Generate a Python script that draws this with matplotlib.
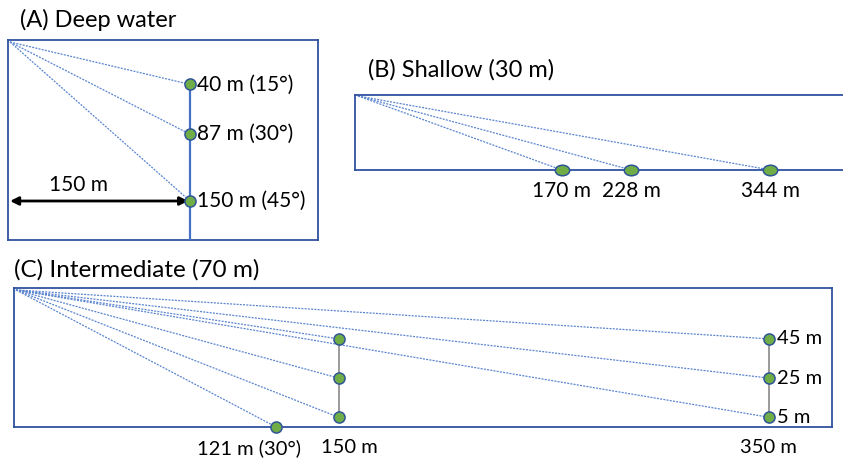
import matplotlib.pyplot as plt
from matplotlib.markers import MarkerStyle
from matplotlib.transforms import Affine2D

plt.rcParams['font.family'] = ['Lato', 'DejaVu Sans']

# (A) deep water: receivers on a line 150 m out, at three depths
deep_range = 150
deep_depths = [40, 87, 150]
deep_angles = [15, 30, 45]

# (B) shallow water, 30 m deep: receivers on the seabed
shallow_depth = 30
shallow_ranges = [170, 228, 344]

# (C) intermediate water, 70 m deep
mid_depth = 70
mid_bottom_range = 121
mid_bottom_angle = 30
mid_ranges = [150, 350]
mid_heights = [45, 25, 5]   # metres above the seabed

BOX = '#2F52A0'
RAY = '#5B85D0'
DOT_FACE = '#70AD47'
DOT_EDGE = '#2F5597'
W, H = 843, 459

fig = plt.figure(figsize=(W / 100, H / 100), dpi=100)


def box_axes(x0, y0, x1, y1):
    ax = fig.add_axes([x0 / W, 1 - y1 / H, (x1 - x0) / W, (y1 - y0) / H])
    ax.set_xticks([])
    ax.set_yticks([])
    for sp in ax.spines.values():
        sp.set_color(BOX)
        sp.set_linewidth(1.3)
    return ax


def ray(ax, x, y):
    ax.plot([0, x], [0, y], color=RAY, lw=0.9, ls=(0, (1.6, 1.0)), zorder=2)


def dot(ax, x, y, marker='o', ms=8):
    ax.plot(x, y, marker=marker, ms=ms, mfc=DOT_FACE, mec=DOT_EDGE, mew=1.1,
            ls='none', zorder=5, clip_on=False)


# ---- (A) Deep water ----
axA = box_axes(8, 40, 318, 240)
axA.set_xlim(-1.7, 256.7)
axA.set_ylim(186.8, -1.9)
axA.plot([deep_range, deep_range], [deep_depths[0], 186.8], color='#4472C4', lw=1.6, zorder=3)
for d, a in zip(deep_depths, deep_angles):
    ray(axA, deep_range, d)
    dot(axA, deep_range, d)
    axA.annotate(f'{d} m ({a}°)', (deep_range, d), xytext=(5, 0), textcoords='offset points',
                 ha='left', va='center', fontsize=15)
axA.annotate('', xy=(0, deep_depths[-1]), xytext=(deep_range - 1.5, deep_depths[-1]),
             arrowprops=dict(arrowstyle='<|-|>', color='black', lw=2, mutation_scale=12,
                             shrinkA=0, shrinkB=0))
axA.text(57, deep_depths[-1] - 6, f'{deep_range} m', ha='center', va='bottom', fontsize=15)
fig.text(20 / W, 1 - 20 / H, '(A) Deep water', ha='left', va='center', fontsize=17)

# ---- (B) Shallow ----
axB = box_axes(355, 95, 870, 170)
axB.set_xlim(-2.5, 427)
axB.set_ylim(shallow_depth, -0.4)
wide = MarkerStyle('o', transform=Affine2D().scale(1.3, 0.95))
for r in shallow_ranges:
    ray(axB, r, shallow_depth)
    dot(axB, r, shallow_depth, marker=wide, ms=8)
    axB.annotate(f'{r} m', (r, shallow_depth), xytext=(0, -15), textcoords='offset points',
                 ha='center', va='center', fontsize=15, annotation_clip=False)
fig.text(368 / W, 1 - 70 / H, f'(B) Shallow ({shallow_depth} m)', ha='left', va='center', fontsize=17)

# ---- (C) Intermediate ----
axC = box_axes(14, 288, 832, 427)
axC.set_xlim(-0.93, 379.5)
axC.set_ylim(mid_depth, -1.0)
ray(axC, mid_bottom_range, mid_depth)
dot(axC, mid_bottom_range, mid_depth)
axC.annotate(f'{mid_bottom_range} m ({mid_bottom_angle}°)', (mid_bottom_range, mid_depth),
             xytext=(18, -15), textcoords='offset points', ha='right', va='center',
             fontsize=14.5, annotation_clip=False)
for i, r in enumerate(mid_ranges):
    depths = [mid_depth - h for h in mid_heights]
    axC.plot([r, r], [depths[0], depths[-1]], color='#7F7F7F', lw=1.1, zorder=3)
    for h, d in zip(mid_heights, depths):
        ray(axC, r, d)
        dot(axC, r, d)
        if i == len(mid_ranges) - 1:
            axC.annotate(f'{h} m', (r, d), xytext=(6, 0), textcoords='offset points',
                         ha='left', va='center', fontsize=14.5)
    axC.annotate(f'{r} m', (r, mid_depth), xytext=(8 if i == 0 else 0, -15),
                 textcoords='offset points', ha='center', va='center', fontsize=14.5,
                 annotation_clip=False)
fig.text(14 / W, 1 - 270 / H, f'(C) Intermediate ({mid_depth} m)', ha='left', va='center', fontsize=17.5)

fig.savefig('out.png', dpi=100)
